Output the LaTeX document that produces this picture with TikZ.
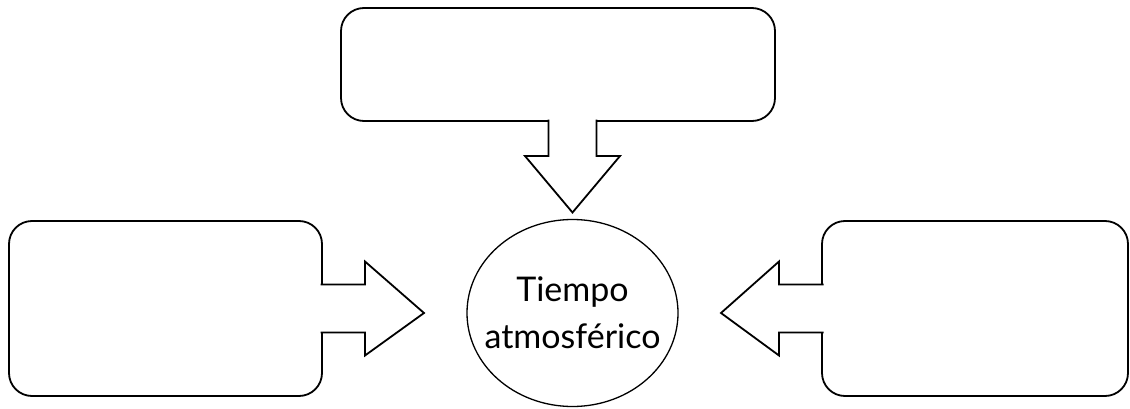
\documentclass[tikz,border=0pt]{standalone}
\usepackage{fontspec}
\setmainfont{Lato}
\usetikzlibrary{calc,shapes.geometric}

\tikzset{
  emptybox/.style={draw, line width=1.8pt, rounded corners=23pt, inner sep=0pt, outer sep=0pt},
  fatarrow/.style={draw, fill=white, line width=1.8pt, line join=miter}
}

\begin{document}
\begin{tikzpicture}[x=1pt,y=1pt]
\useasboundingbox (0,0) rectangle (1130,408);

\node [emptybox, minimum width=434pt, minimum height=113pt] (top) at (558,343.5) {};
\node [emptybox, minimum width=313pt, minimum height=175pt] (left) at (165.5,99.5) {};
\node [emptybox, minimum width=306pt, minimum height=175pt] (right) at (975,99.5) {};

\node [draw, ellipse, line width=1.3pt, minimum width=211pt, minimum height=187pt,
  inner xsep=-25pt, inner ysep=0pt, outer sep=0pt,
  align=center, font=\fontsize{34}{47}\selectfont] (atmo) at (572.5,95) {Tiempo\\atmosférico};

\coordinate (tl) at ($(atmo.west)+(-43,0)$);
\coordinate (tr) at ($(atmo.east)+(43,0)$);
\coordinate (tt) at ($(atmo.north)+(0,7)$);
\coordinate (ts) at (top.south -| tt);

% arrows into the circle
\draw [fatarrow] ($(left.east)+(-1.5,24)$) -- ++(44.5,0) -- ++(0,23) -- (tl)
  -- ($(left.east)+(43,-47)$) -- ++(0,23) -- ++(-44.5,0);
\draw [fatarrow] ($(right.west)+(1.5,24)$) -- ++(-44.5,0) -- ++(0,23) -- (tr)
  -- ($(right.west)+(-43,-47)$) -- ++(0,23) -- ++(44.5,0);
\draw [fatarrow] ($(ts)+(-24,1.5)$) -- ++(0,-36.5) -- ++(-23.5,0) -- (tt)
  -- ($(ts)+(47.5,-35)$) -- ++(-23.5,0) -- ++(0,36.5);

\end{tikzpicture}
\end{document}
